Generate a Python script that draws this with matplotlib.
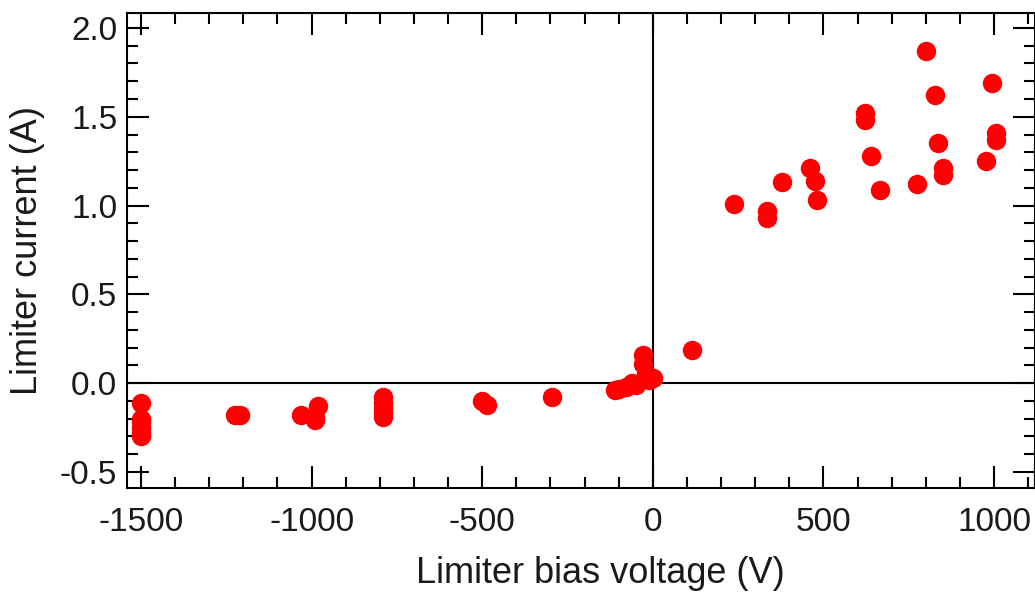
import matplotlib
matplotlib.use("Agg")
import matplotlib.pyplot as plt
from matplotlib.ticker import MultipleLocator

plt.rcParams['font.family'] = ['Liberation Sans', 'DejaVu Sans']
plt.rcParams['axes.unicode_minus'] = False

# limiter bias voltage (V)
voltage = [-1500, -1500, -1500, -1500, -1500, -1500,
           -1225, -1210,
           -1030, -990, -980, -990,
           -790, -790, -790, -790, -790,
           -500, -485, -295,
           -110, -100, -80, -60, -50, -30, -30, -20, -10, 0, 114,
           237, 334, 334, 378, 460, 475, 480,
           621, 621, 639, 665, 774, 800, 826, 835, 850, 850,
           976, 993, 1005, 1005]
# limiter current (A)
current = [-0.11, -0.20, -0.22, -0.25, -0.28, -0.30,
           -0.18, -0.18,
           -0.18, -0.19, -0.13, -0.21,
           -0.08, -0.11, -0.14, -0.17, -0.19,
           -0.10, -0.12, -0.08,
           -0.04, -0.03, -0.02, 0.0, -0.01, 0.16, 0.11, 0.05, 0.02, 0.03, 0.185,
           1.01, 0.97, 0.93, 1.13, 1.21, 1.14, 1.03,
           1.52, 1.48, 1.28, 1.09, 1.12, 1.87, 1.62, 1.35, 1.21, 1.17,
           1.25, 1.69, 1.41, 1.37]

fig = plt.figure(figsize=(10.35, 5.92), dpi=100)
ax = fig.add_axes([127/1035, 1 - 488/592, 1 - 127/1035, (488 - 13)/592])

ax.axhline(0, color='black', lw=1.5, zorder=1)
ax.axvline(0, color='black', lw=1.5, zorder=1)
ax.plot(voltage, current, 'o', color='#ff0000', markersize=14, markeredgewidth=0, zorder=3)

ax.set_xlim(-1541, 1120)
ax.set_ylim(-0.59, 2.084)
ax.xaxis.set_major_locator(MultipleLocator(500))
ax.xaxis.set_minor_locator(MultipleLocator(100))
ax.yaxis.set_major_locator(MultipleLocator(0.5))
ax.yaxis.set_minor_locator(MultipleLocator(0.1))
ax.tick_params(which='both', direction='in', top=True, right=True, width=1.5,
               labelsize=24, labelcolor='#1a1a1a')
ax.tick_params(which='major', length=16)
ax.tick_params(which='minor', length=8)
ax.tick_params(axis='x', which='major', pad=14)
ax.tick_params(axis='y', which='major', pad=7)
for s in ax.spines.values():
    s.set_linewidth(1.5)

ax.set_xlabel("Limiter bias voltage (V)", fontsize=26, color='#1a1a1a')
ax.set_ylabel("Limiter current (A)", fontsize=26, color='#1a1a1a')
ax.xaxis.set_label_coords(0.521, -0.143)
ax.yaxis.set_label_coords(-0.09, 0.5)

fig.savefig("out.png", dpi=100)
